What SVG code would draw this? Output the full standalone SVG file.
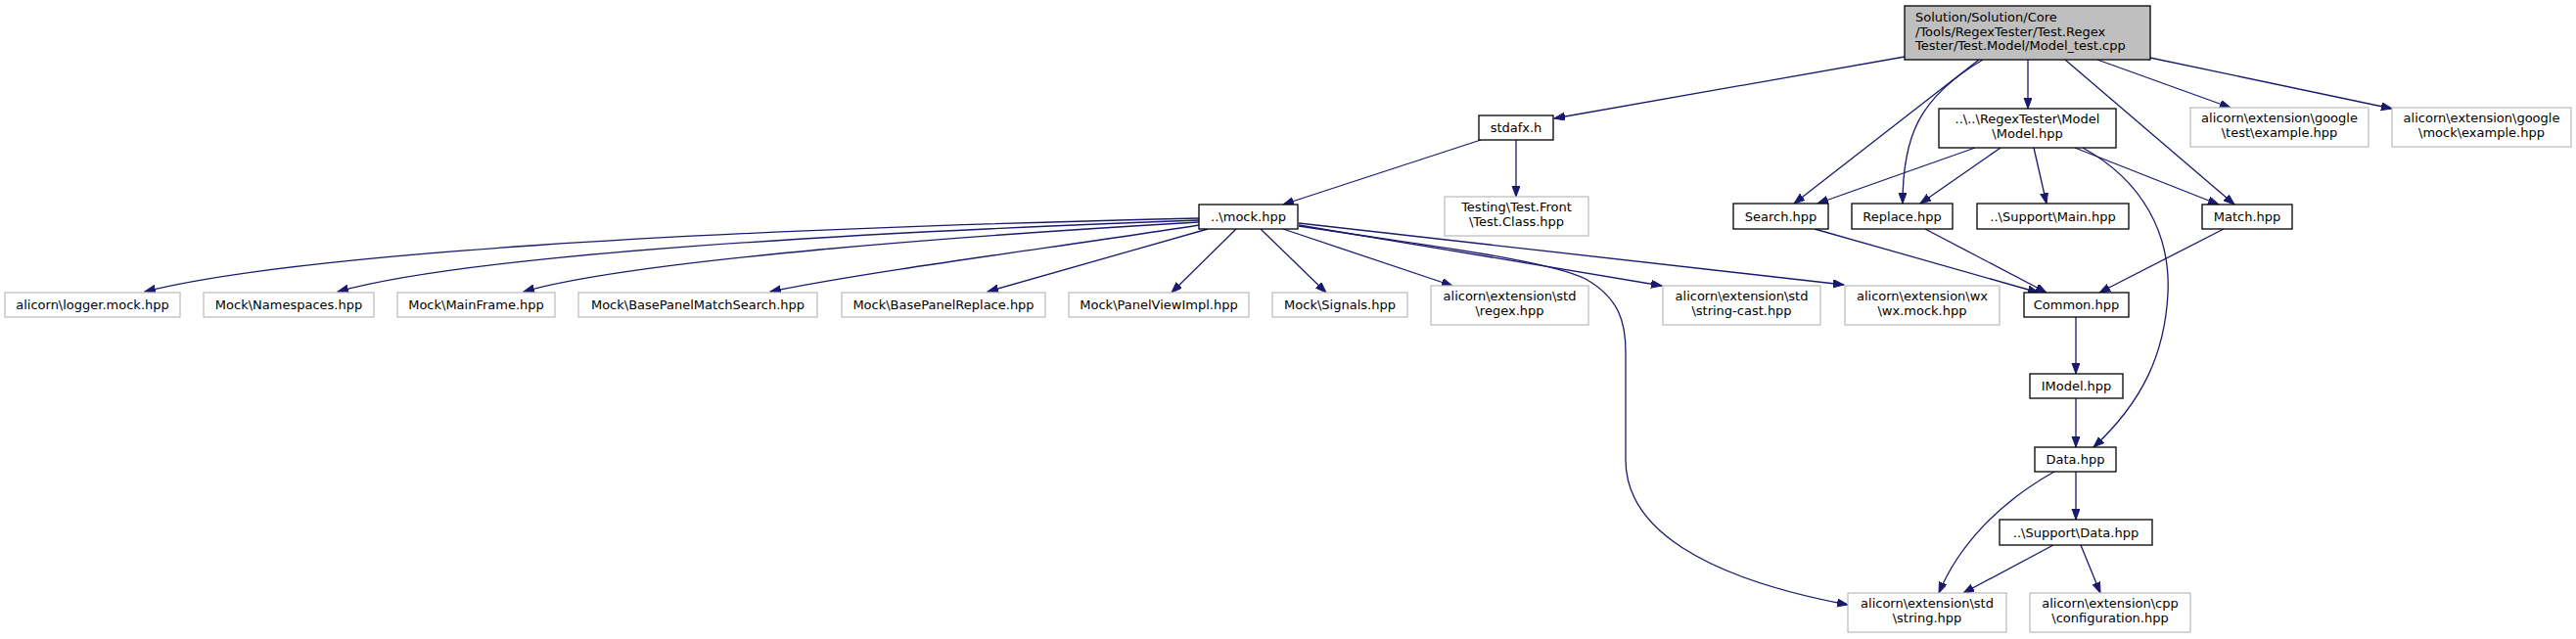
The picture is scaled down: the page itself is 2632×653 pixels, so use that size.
<svg xmlns="http://www.w3.org/2000/svg" width="2632" height="653" viewBox="0 0 2632 653">
<style>
text{font-family:"DejaVu Sans",Verdana,sans-serif;font-size:13px;fill:#000}
.c{text-anchor:middle}
.n rect{fill:#fff;stroke:#000;stroke-width:1.3}
.g rect{fill:#fff;stroke:#bfbfbf;stroke-width:1.3}
.r rect{fill:#bfbfbf;stroke:#000;stroke-width:1.3}
#edges path{fill:none;stroke:#191970;stroke-width:1.3;marker-end:url(#ah)}
</style>
<defs>
<marker id="ah" markerUnits="userSpaceOnUse" markerWidth="12" markerHeight="9" refX="11" refY="4" orient="auto" viewBox="0 0 12 9">
<path d="M0,0 L11,4 L0,8 z" fill="#191970" stroke="#191970" stroke-width="1"/>
</marker>
</defs>
<rect width="2632" height="653" fill="#fff"/>
<g id="edges">
<path d="M1946,58 L1588,121"/>
<path d="M2072,61 L2072,111"/>
<path d="M2022,61 L1833,208"/>
<path d="M2026,61 C1960,100 1944,140 1944,208"/>
<path d="M2110,61 L2283,209"/>
<path d="M2143,61 L2279,110"/>
<path d="M2197,59 L2444,111"/>
<path d="M1513,143 L1311,209"/>
<path d="M1549,143 L1549,201"/>
<path d="M1225,223 C700,235 300,260 148,298"/>
<path d="M1225,225 C950,235 500,255 345,298"/>
<path d="M1225,227 C1000,240 650,265 535,298"/>
<path d="M1225,230 C1100,250 900,275 787,298"/>
<path d="M1234,234 L1009,298"/>
<path d="M1263,234 L1197,299"/>
<path d="M1288,234 L1355,299"/>
<path d="M1311,234 L1484,292"/>
<path d="M1327,231 C1450,250 1580,265 1620,285 C1655,305 1661,330 1661,360 L1661,470 C1661,540 1740,590 1888,618"/>
<path d="M1327,230 L1698,292"/>
<path d="M1327,228 L1884,291"/>
<path d="M2018,151 L1857,208"/>
<path d="M2044,151 L1962,208"/>
<path d="M2078,151 L2091,208"/>
<path d="M2120,151 L2267,209"/>
<path d="M2128,151 C2190,185 2218,240 2215,300 C2212,360 2190,410 2139,457"/>
<path d="M1854,234 L2083,299"/>
<path d="M1967,234 L2091,299"/>
<path d="M2272,234 L2145,299"/>
<path d="M2121,324 L2121,382"/>
<path d="M2121,407 L2121,457"/>
<path d="M2121,482 L2121,531"/>
<path d="M2099,482 C2040,515 2000,560 1981,606"/>
<path d="M2098,557 L2006,606"/>
<path d="M2126,557 L2146,606"/>
</g>
<g id="root" class="r"><rect x="1946" y="6" width="251" height="55"/><text x="1957" y="21.5">Solution/Solution/Core</text><text x="1957" y="36.5">/Tools/RegexTester/Test.Regex</text><text x="1957" y="51">Tester/Test.Model/Model_test.cpp</text></g>
<g id="stdafx" class="n"><rect x="1511" y="118" width="76" height="25"/><text class="c" x="1549" y="135">stdafx.h</text></g>
<g id="model" class="n"><rect x="1981" y="111" width="181" height="40"/><text class="c" x="2071.5" y="126">..\..\RegexTester\Model</text><text class="c" x="2071.5" y="141">\Model.hpp</text></g>
<g id="gtest" class="g"><rect x="2238" y="110" width="182" height="40"/><text class="c" x="2329" y="125">alicorn\extension\google</text><text class="c" x="2329" y="140">\test\example.hpp</text></g>
<g id="gmock" class="g"><rect x="2444" y="110" width="183" height="40"/><text class="c" x="2535.5" y="125">alicorn\extension\google</text><text class="c" x="2535.5" y="140">\mock\example.hpp</text></g>
<g id="mock" class="n"><rect x="1225" y="209" width="101" height="25"/><text class="c" x="1275.5" y="226">..\mock.hpp</text></g>
<g id="testing" class="g"><rect x="1476" y="201" width="147" height="40"/><text class="c" x="1549.5" y="216">Testing\Test.Front</text><text class="c" x="1549.5" y="231">\Test.Class.hpp</text></g>
<g id="search" class="n"><rect x="1771" y="208" width="97" height="26"/><text class="c" x="1819.5" y="225.5">Search.hpp</text></g>
<g id="replace" class="n"><rect x="1892" y="208" width="103" height="26"/><text class="c" x="1943.5" y="225.5">Replace.hpp</text></g>
<g id="main" class="n"><rect x="2020" y="208" width="155" height="26"/><text class="c" x="2097.5" y="225.5">..\Support\Main.hpp</text></g>
<g id="match" class="n"><rect x="2250" y="209" width="92" height="25"/><text class="c" x="2296" y="226">Match.hpp</text></g>
<g id="logger" class="g"><rect x="5" y="299" width="179" height="25"/><text class="c" x="94.5" y="316">alicorn\logger.mock.hpp</text></g>
<g id="namespaces" class="g"><rect x="208" y="299" width="174" height="25"/><text class="c" x="295" y="316">Mock\Namespaces.hpp</text></g>
<g id="mainframe" class="g"><rect x="406" y="299" width="161" height="25"/><text class="c" x="486.5" y="316">Mock\MainFrame.hpp</text></g>
<g id="bpms" class="g"><rect x="591" y="299" width="244" height="25"/><text class="c" x="713" y="316">Mock\BasePanelMatchSearch.hpp</text></g>
<g id="bpr" class="g"><rect x="860" y="299" width="208" height="25"/><text class="c" x="964" y="316">Mock\BasePanelReplace.hpp</text></g>
<g id="pvi" class="g"><rect x="1092" y="299" width="184" height="25"/><text class="c" x="1184" y="316">Mock\PanelViewImpl.hpp</text></g>
<g id="signals" class="g"><rect x="1300" y="299" width="138" height="25"/><text class="c" x="1369" y="316">Mock\Signals.hpp</text></g>
<g id="regex" class="g"><rect x="1462" y="292" width="161" height="40"/><text class="c" x="1542.5" y="307">alicorn\extension\std</text><text class="c" x="1542.5" y="322">\regex.hpp</text></g>
<g id="stringcast" class="g"><rect x="1699" y="292" width="161" height="40"/><text class="c" x="1779.5" y="307">alicorn\extension\std</text><text class="c" x="1779.5" y="322">\string-cast.hpp</text></g>
<g id="wxmock" class="g"><rect x="1885" y="292" width="158" height="40"/><text class="c" x="1964" y="307">alicorn\extension\wx</text><text class="c" x="1964" y="322">\wx.mock.hpp</text></g>
<g id="common" class="n"><rect x="2068" y="299" width="107" height="25"/><text class="c" x="2121.5" y="316">Common.hpp</text></g>
<g id="imodel" class="n"><rect x="2074" y="382" width="95" height="25"/><text class="c" x="2121.5" y="399">IModel.hpp</text></g>
<g id="data" class="n"><rect x="2079" y="457" width="83" height="25"/><text class="c" x="2120.5" y="474">Data.hpp</text></g>
<g id="supportdata" class="n"><rect x="2043" y="531" width="156" height="26"/><text class="c" x="2121" y="548.5">..\Support\Data.hpp</text></g>
<g id="string" class="g"><rect x="1888" y="606" width="162" height="40"/><text class="c" x="1969" y="621">alicorn\extension\std</text><text class="c" x="1969" y="636">\string.hpp</text></g>
<g id="configuration" class="g"><rect x="2074" y="606" width="164" height="40"/><text class="c" x="2156" y="621">alicorn\extension\cpp</text><text class="c" x="2156" y="636">\configuration.hpp</text></g>
</svg>
